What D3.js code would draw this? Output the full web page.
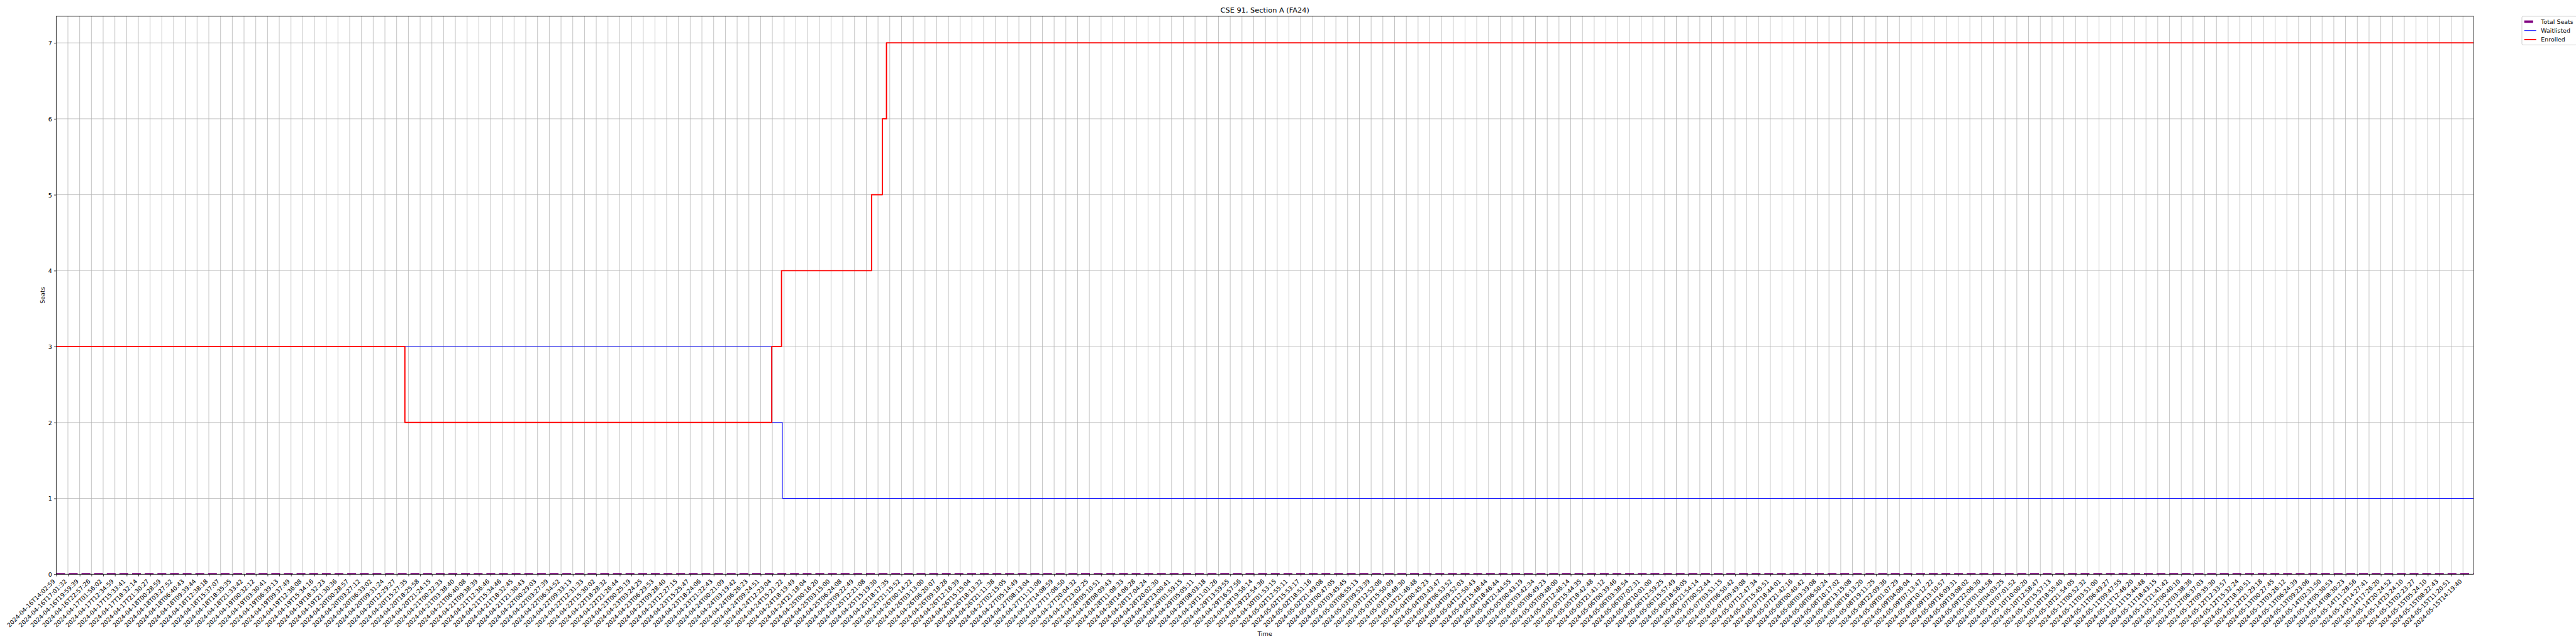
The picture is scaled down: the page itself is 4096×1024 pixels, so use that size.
<!DOCTYPE html>
<html><head><meta charset="utf-8">
<script src="https://cdn.jsdelivr.net/npm/d3@7"></script>
<style>body{margin:0;background:#fff}svg{display:block}text{font-family:"DejaVu Sans",sans-serif}</style>
</head><body><svg id="c" width="4096" height="1024"></svg>
<script>
const title = "CSE 91, Section A (FA24)";
const xLabel = "Time";
const yLabel = "Seats";
const tickLabels = [
"2024-04-16T14:02:59","2024-04-16T17:01:32","2024-04-16T19:59:39","2024-04-16T22:57:26","2024-04-17T01:56:02",
"2024-04-17T12:34:59","2024-04-17T15:33:41","2024-04-17T18:32:14","2024-04-17T21:30:27","2024-04-18T00:28:59",
"2024-04-18T03:27:52","2024-04-18T06:40:43","2024-04-18T09:39:44","2024-04-18T12:38:18","2024-04-18T15:37:07",
"2024-04-18T18:35:35","2024-04-18T21:33:42","2024-04-19T00:32:12","2024-04-19T03:30:41","2024-04-19T06:39:13",
"2024-04-19T09:37:49","2024-04-19T12:36:08","2024-04-19T15:34:16","2024-04-19T18:32:23","2024-04-19T21:30:36",
"2024-04-20T00:28:57","2024-04-20T03:27:12","2024-04-20T06:33:02","2024-04-20T09:31:24","2024-04-20T12:29:27",
"2024-04-20T15:27:35","2024-04-20T18:25:58","2024-04-20T21:24:15","2024-04-21T00:22:33","2024-04-21T03:38:40",
"2024-04-21T06:40:08","2024-04-21T09:38:39","2024-04-21T12:36:46","2024-04-21T15:34:46","2024-04-21T18:32:45",
"2024-04-21T21:30:43","2024-04-22T00:29:03","2024-04-22T03:27:39","2024-04-22T06:34:52","2024-04-22T09:33:13",
"2024-04-22T12:31:33","2024-04-22T15:30:02","2024-04-22T18:28:32","2024-04-22T21:26:44","2024-04-23T00:25:19",
"2024-04-23T03:24:25","2024-04-23T06:29:53","2024-04-23T09:28:40","2024-04-23T12:27:15","2024-04-23T15:25:47",
"2024-04-23T18:24:06","2024-04-23T21:22:43","2024-04-24T00:21:09","2024-04-24T03:19:42","2024-04-24T06:26:23",
"2024-04-24T09:24:51","2024-04-24T12:23:04","2024-04-24T15:21:22","2024-04-24T18:19:49","2024-04-24T21:18:04",
"2024-04-25T00:16:20","2024-04-25T03:15:00","2024-04-25T06:24:08","2024-04-25T09:22:49","2024-04-25T12:21:08",
"2024-04-25T15:19:30","2024-04-25T18:17:35","2024-04-25T21:15:52","2024-04-26T00:14:22","2024-04-26T03:13:00",
"2024-04-26T06:20:07","2024-04-26T09:18:28","2024-04-26T12:16:39","2024-04-26T15:15:04","2024-04-26T18:13:32",
"2024-04-26T21:11:38","2024-04-27T02:15:05","2024-04-27T05:14:49","2024-04-27T08:13:04","2024-04-27T11:11:06",
"2024-04-27T14:08:59","2024-04-27T17:06:50","2024-04-27T20:04:32","2024-04-27T23:02:25","2024-04-28T05:10:51",
"2024-04-28T08:09:43","2024-04-28T11:08:33","2024-04-28T14:06:28","2024-04-28T17:04:24","2024-04-28T20:02:30",
"2024-04-28T23:00:41","2024-04-29T01:59:15","2024-04-29T05:05:11","2024-04-29T08:03:18","2024-04-29T11:01:26",
"2024-04-29T13:59:55","2024-04-29T16:57:56","2024-04-29T19:56:14","2024-04-29T22:54:36","2024-04-30T01:53:15",
"2024-05-02T12:55:11","2024-05-02T15:53:17","2024-05-02T18:51:16","2024-05-02T21:49:08","2024-05-03T00:47:05",
"2024-05-03T03:45:45","2024-05-03T06:55:13","2024-05-03T09:53:39","2024-05-03T12:52:06","2024-05-03T15:50:09",
"2024-05-03T18:48:30","2024-05-03T21:46:48","2024-05-04T00:45:23","2024-05-04T03:43:47","2024-05-04T06:53:52",
"2024-05-04T09:52:03","2024-05-04T12:50:43","2024-05-04T15:48:44","2024-05-04T18:46:44","2024-05-04T21:44:55",
"2024-05-05T00:43:19","2024-05-05T03:42:34","2024-05-05T06:49:23","2024-05-05T09:48:00","2024-05-05T12:46:14",
"2024-05-05T15:44:35","2024-05-05T18:42:48","2024-05-05T21:41:12","2024-05-06T00:39:46","2024-05-06T03:38:54",
"2024-05-06T07:02:31","2024-05-06T10:01:00","2024-05-06T12:59:25","2024-05-06T15:57:49","2024-05-06T18:56:05",
"2024-05-06T21:54:14","2024-05-07T00:52:44","2024-05-07T03:51:15","2024-05-07T06:50:42","2024-05-07T09:49:08",
"2024-05-07T12:47:34","2024-05-07T15:45:51","2024-05-07T18:44:01","2024-05-07T21:42:16","2024-05-08T00:40:42",
"2024-05-08T03:39:08","2024-05-08T06:50:24","2024-05-08T10:17:02","2024-05-08T13:15:08","2024-05-08T16:13:20",
"2024-05-08T19:11:25","2024-05-08T22:09:36","2024-05-09T01:07:29","2024-05-09T04:06:04","2024-05-09T07:13:47",
"2024-05-09T10:12:22","2024-05-09T13:10:57","2024-05-09T16:09:31","2024-05-09T19:08:02","2024-05-09T22:06:30",
"2024-05-10T01:04:58","2024-05-10T04:03:25","2024-05-10T07:01:52","2024-05-10T10:00:20","2024-05-10T12:58:47",
"2024-05-10T15:57:13","2024-05-10T18:55:40","2024-05-10T21:54:05","2024-05-11T00:52:32","2024-05-11T03:51:00",
"2024-05-11T06:49:27","2024-05-11T09:47:55","2024-05-11T12:46:20","2024-05-11T15:44:48","2024-05-11T18:43:15",
"2024-05-11T21:41:42","2024-05-12T00:40:10","2024-05-12T03:38:36","2024-05-12T06:37:03","2024-05-12T09:35:30",
"2024-05-12T12:33:57","2024-05-12T15:32:24","2024-05-12T18:30:51","2024-05-12T21:29:18","2024-05-13T00:27:45",
"2024-05-13T03:26:12","2024-05-13T06:24:39","2024-05-13T09:23:06","2024-05-14T02:31:50","2024-05-14T05:30:53",
"2024-05-14T08:30:23","2024-05-14T11:28:56","2024-05-14T14:27:41","2024-05-14T17:26:20","2024-05-14T20:24:52",
"2024-05-14T23:24:10","2024-05-15T02:23:27","2024-05-15T05:24:10","2024-05-15T08:22:43","2024-05-15T11:20:51",
"2024-05-15T14:19:40"
];
const yTicks = [0, 1, 2, 3, 4, 5, 6, 7];
const seriesNames = ["Total Seats", "Waitlisted", "Enrolled"];
const seriesColors = ["purple", "blue", "red"];
// change points, in units of x-tick-label index
const totalSeatsPos = [0, 205.9];
const totalSeatsVal = [0, 0];
const waitlistedPos = [0, 60.95, 61.86, 205.9];
const waitlistedVal = [3, 2, 1, 1];
const enrolledPos = [0, 29.7, 60.95, 61.78, 69.45, 70.37, 70.72, 205.9];
const enrolledVal = [3, 2, 3, 4, 5, 6, 7, 7];
const xMax = 205.9;
const yDomain = [0, 7.35];

const S = 0.682;
const W = 4096, H = 1024;
const L = 131 * S, R = 5767 * S, T = 38 * S, B = 1339 * S;
const fs = 13.9 * S;
const svg = d3.select("#c");

const x = d3.scaleLinear().domain([0, xMax]).range([L, R]);
const y = d3.scaleLinear().domain(yDomain).range([B, T]);

svg.append("defs").append("clipPath").attr("id", "clip")
  .append("rect").attr("x", L).attr("y", T).attr("width", R - L).attr("height", B - T);

const gridW = 1.11 * S;
// grid
const gGrid = svg.append("g");
gGrid.selectAll(".gx").data(tickLabels.map((d, i) => i)).join("line")
  .attr("x1", d => x(d)).attr("x2", d => x(d)).attr("y1", T).attr("y2", B)
  .attr("stroke", "#b0b0b0").attr("stroke-width", gridW);
gGrid.selectAll(".gy").data(yTicks).join("line")
  .attr("x1", L).attr("x2", R).attr("y1", d => y(d)).attr("y2", d => y(d))
  .attr("stroke", "#b0b0b0").attr("stroke-width", gridW);

// series
const line = d3.line().x(d => x(d[0])).y(d => y(d[1])).curve(d3.curveStepAfter);
const gLines = svg.append("g").attr("clip-path", "url(#clip)");
const series = [
  {pos: totalSeatsPos, val: totalSeatsVal, color: seriesColors[0], w: 5.56 * S, dash: [20.6 * S, 8.9 * S]},
  {pos: waitlistedPos, val: waitlistedVal, color: seriesColors[1], w: 1.39 * S, dash: null},
  {pos: enrolledPos, val: enrolledVal, color: seriesColors[2], w: 2.78 * S, dash: null}
];
series.forEach(s => {
  gLines.append("path")
    .datum(s.pos.map((p, i) => [p, s.val[i]]))
    .attr("d", line).attr("fill", "none").attr("stroke", s.color)
    .attr("stroke-width", s.w).attr("stroke-dasharray", s.dash ? s.dash.join(" ") : null)
    .attr("stroke-linejoin", "round");
});

// axes
const tickLen = 4.86 * S, tickPad = 4.86 * S;
const xAxis = d3.axisBottom(x).tickValues(tickLabels.map((d, i) => i))
  .tickFormat(i => tickLabels[i]).tickSize(tickLen).tickSizeOuter(0).tickPadding(tickPad);
const gx = svg.append("g").attr("transform", `translate(0,${B})`).call(xAxis);
gx.select(".domain").remove();
gx.selectAll(".tick line").attr("stroke", "#000").attr("stroke-width", gridW);
const lblTop = tickLen + tickPad;
gx.selectAll(".tick text")
  .attr("font-size", fs).attr("fill", "#000")
  .attr("text-anchor", "end").attr("y", null).attr("dy", null)
  .attr("transform", `translate(${-0.24 * fs * 0.707},${lblTop + 0.76 * fs * 0.707}) rotate(-45)`);

const yAxis = d3.axisLeft(y).tickValues(yTicks).tickFormat(d3.format("d"))
  .tickSize(tickLen).tickSizeOuter(0).tickPadding(tickPad);
const gy = svg.append("g").attr("transform", `translate(${L},0)`).call(yAxis);
gy.select(".domain").remove();
gy.selectAll(".tick line").attr("stroke", "#000").attr("stroke-width", gridW);
gy.selectAll(".tick text").attr("font-size", fs).attr("fill", "#000").attr("dy", "0.36em");

// spines
svg.append("rect").attr("x", L).attr("y", T).attr("width", R - L).attr("height", B - T)
  .attr("fill", "none").attr("stroke", "#000").attr("stroke-width", gridW);

// title & labels
svg.append("text").attr("x", (L + R) / 2).attr("y", T - 8.33 * S)
  .attr("text-anchor", "middle").attr("font-size", 16.67 * S).attr("fill", "#000").text(title);
const lblBottom = B + lblTop + 0.707 * (10.9 * fs + fs);
svg.append("text").attr("x", (L + R) / 2).attr("y", lblBottom + 5.56 * S + 0.76 * fs)
  .attr("text-anchor", "middle").attr("font-size", fs).attr("fill", "#000").text(xLabel);
svg.append("text").attr("transform", `translate(${103.7 * S},${(T + B) / 2}) rotate(-90)`)
  .attr("text-anchor", "middle").attr("font-size", fs).attr("fill", "#000").text(yLabel);

// legend
const lx = R + 0.02 * (R - L), ly = T;
const lg = svg.append("g");
const rowH = 1.5 * fs;
lg.append("rect").attr("x", lx).attr("y", ly).attr("width", 3.6 * fs + 5.6 * fs)
  .attr("height", 1.8 * fs + 3 * fs).attr("rx", 2).attr("ry", 2)
  .attr("fill", "#fff").attr("fill-opacity", 0.8).attr("stroke", "#cccccc").attr("stroke-width", 1.39 * S);
series.forEach((s, i) => {
  const cy = ly + 0.9 * fs + i * rowH;
  lg.append("line").attr("x1", lx + 0.4 * fs).attr("x2", lx + 2.4 * fs).attr("y1", cy).attr("y2", cy)
    .attr("stroke", s.color).attr("stroke-width", s.w)
    .attr("stroke-dasharray", s.dash ? s.dash.join(" ") : null);
  lg.append("text").attr("x", lx + 3.2 * fs).attr("y", cy).attr("dy", "0.36em")
    .attr("font-size", fs).attr("fill", "#000").text(seriesNames[i]);
});
</script></body></html>
